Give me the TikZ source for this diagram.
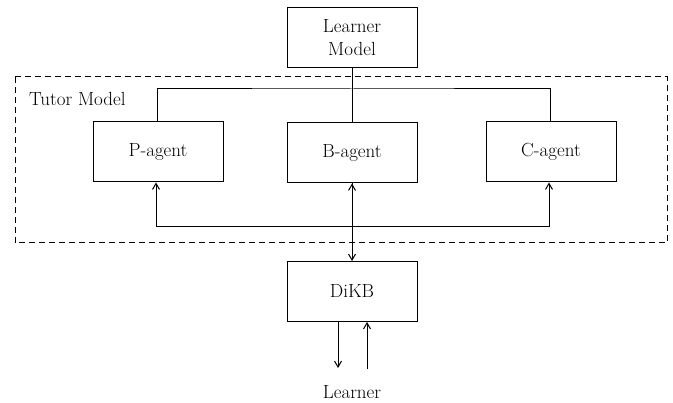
\documentclass[tikz,border=0pt]{standalone}
\usetikzlibrary{arrows.meta}
\begin{document}
\begin{tikzpicture}[x=1pt,y=-1pt,
  box/.style={draw,line width=1pt,minimum width=130pt,minimum height=60pt,inner sep=0pt,font=\fontsize{19}{23}\selectfont,align=center},
  conn/.style={line width=1pt},
  arr/.style={line width=1pt,-{Straight Barb[length=6pt,width=7pt,line width=1pt]}},
  lbl/.style={font=\fontsize{19}{23}\selectfont,inner sep=0pt}]
\useasboundingbox (0,0) rectangle (673,403);
\draw[line width=1pt,dash pattern=on 6pt off 4pt] (15,77) rectangle (667,243);
\node[lbl,anchor=west] (tm) at (29,99) {Tutor Model};
\node[box] (lm) at (352,38) {Learner\\Model};
\node[box] (p) at (158,152) {P-agent};
\node[box] (b) at (352,153) {B-agent};
\node[box] (c) at (551,152) {C-agent};
\node[box] (d) at (352,291.5) {DiKB};
\node[lbl] (l) at (352,392) {Learner};
\coordinate (top) at (352,89);
\coordinate (bot) at (352,227);
\draw[conn] (lm.south) -- (b.north);
\draw[conn] (p.north -| 157,0) |- (top) -| (c.north -| 550,0);
\draw[arr] (bot) -| (p.south -| 156,0);
\draw[arr] (bot) -| (c.south -| 549,0);
\draw[arr] (bot) -- (b.south);
\draw[arr] (b.south) -- (d.north);
\coordinate (o1) at (338,368);
\coordinate (i1) at (367,369);
\draw[arr] (d.south -| o1) -- (o1);
\draw[arr] (i1) -- (d.south -| i1);
\end{tikzpicture}
\end{document}
